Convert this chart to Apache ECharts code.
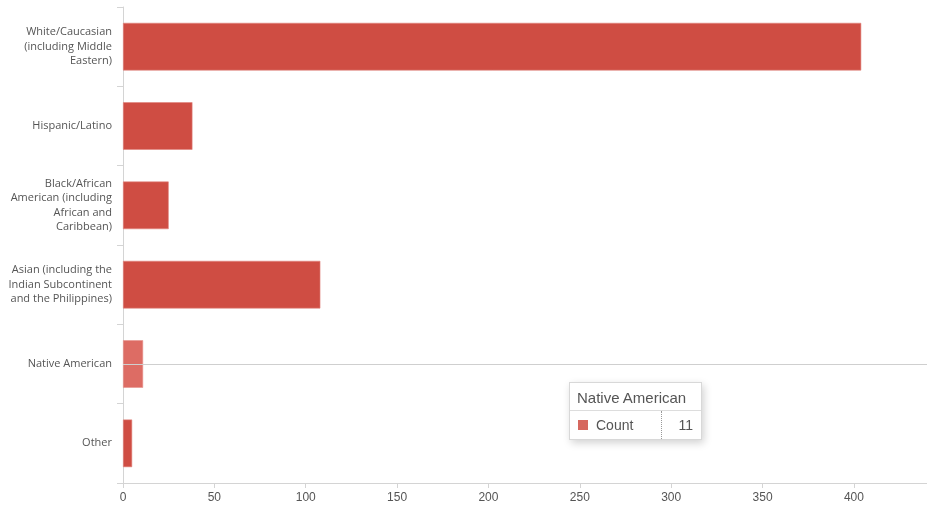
<!DOCTYPE html>
<html>
<head>
<meta charset="utf-8">
<script src="https://cdn.jsdelivr.net/npm/echarts@6/dist/echarts.min.js"></script>
<style>
  html, body { margin: 0; padding: 0; background: #fff; }
  #chart { width: 927px; height: 508px; }
</style>
</head>
<body>
<div id="chart"></div>
<script>
// Respondent ethnicity counts
const categories = [
  'White/Caucasian\n(including Middle\nEastern)',
  'Hispanic/Latino',
  'Black/African\nAmerican (including\nAfrican and\nCaribbean)',
  'Asian (including the\nIndian Subcontinent\nand the Philippines)',
  'Native American',
  'Other'
];
const counts = [404, 38, 25, 108, 11, 5];
const xTicks = [0, 50, 100, 150, 200, 250, 300, 350, 400];
const seriesName = 'Count';

const barColor = '#cf4d43';
const labelFont = '"Open Sans", Lato, sans-serif';
const numFont = '"Liberation Sans", Arial, sans-serif';

const chart = echarts.init(document.getElementById('chart'));

function tipHtml(name, value) {
  return '<div style="font-family:\'Liberation Sans\',Arial,sans-serif;color:#555;min-width:131px;">' +
    '<div style="font-size:15px;line-height:18px;padding:6px 7px 3px 7px;border-bottom:1px solid #ddd;">' + name + '</div>' +
    '<div style="display:flex;align-items:center;font-size:14px;height:28px;">' +
      '<span style="display:inline-block;width:10px;height:10px;background:' + barColor + ';opacity:0.85;margin:0 8px 0 8px;"></span>' +
      '<span style="flex:1;">' + seriesName + '</span>' +
      '<span style="border-left:1px dotted #999;height:28px;"></span>' +
      '<span style="padding:0 8px 0 16px;line-height:26px;">' + value + '</span>' +
    '</div></div>';
}

chart.setOption({
  animation: false,
  grid: { left: 123, right: 0, top: 7, bottom: 25, containLabel: false },
  xAxis: {
    type: 'value',
    min: 0,
    max: 440,
    interval: 50,
    axisLine: { show: true, lineStyle: { color: '#d4d4d4', width: 1 } },
    axisTick: { show: true, length: 5, lineStyle: { color: '#d4d4d4' } },
    splitLine: { show: false },
    axisLabel: {
      color: '#555', fontSize: 12, fontFamily: numFont, margin: 9,
      showMaxLabel: false,
      formatter: v => (xTicks.includes(v) ? String(v) : '')
    }
  },
  yAxis: {
    type: 'category',
    inverse: true,
    data: categories,
    axisLine: { show: true, lineStyle: { color: '#d4d4d4', width: 1 } },
    axisTick: { show: true, length: 6, lineStyle: { color: '#d4d4d4' } },
    axisLabel: {
      color: '#555', fontSize: 11, fontFamily: labelFont, margin: 11,
      lineHeight: 14.5, align: 'right', padding: [6, 0, 0, 0]
    },
    axisPointer: {
      show: true, type: 'line',
      lineStyle: { color: '#cfcfcf', width: 1, type: 'solid' },
      label: { show: false }
    }
  },
  tooltip: {
    trigger: 'axis',
    alwaysShowContent: true,
    padding: 0,
    borderColor: '#d8d8d8',
    borderWidth: 1,
    borderRadius: 0,
    backgroundColor: '#fff',
    extraCssText: 'box-shadow: 2px 3px 8px rgba(0,0,0,0.18);',
    position: [569, 382],
    transitionDuration: 0,
    formatter: params => tipHtml(params[0].name, params[0].value)
  },
  series: [{
    type: 'bar',
    name: seriesName,
    data: counts,
    barWidth: '60%',
    itemStyle: { color: barColor, borderColor: '#e0857d', borderWidth: 0.6 },
    emphasis: { itemStyle: { color: '#dd6c64', borderColor: '#e8948d' } }
  }]
});

chart.dispatchAction({ type: 'showTip', seriesIndex: 0, dataIndex: 4 });
chart.dispatchAction({ type: 'highlight', seriesIndex: 0, dataIndex: 4 });
</script>
</body>
</html>
